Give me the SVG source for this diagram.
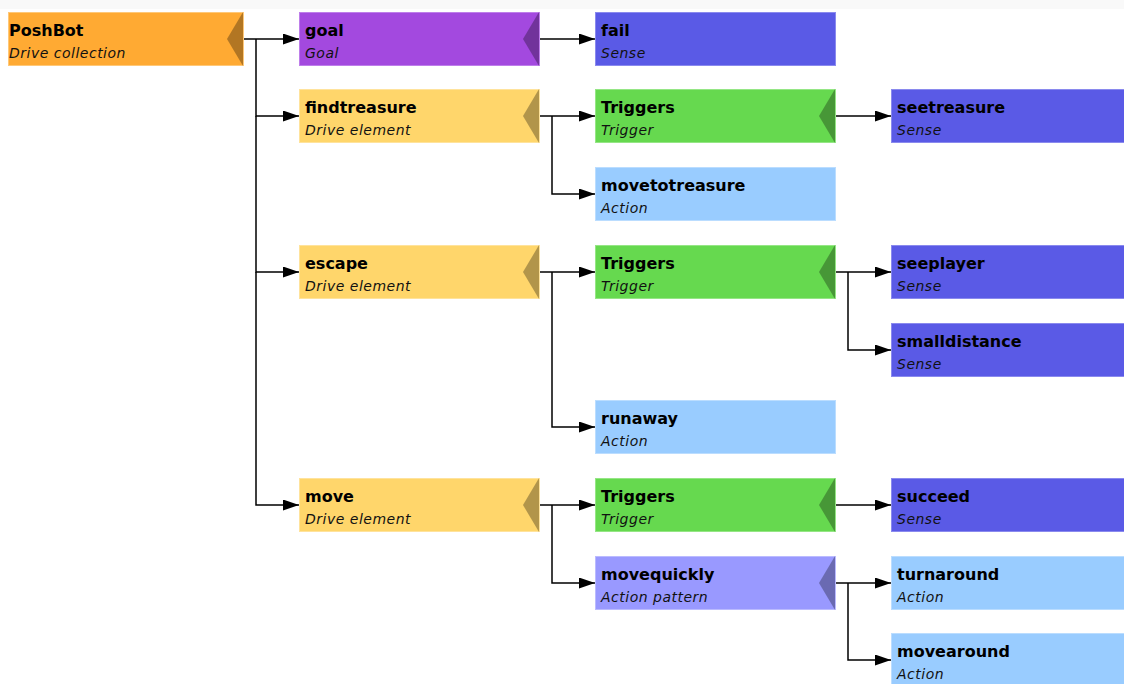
<svg xmlns="http://www.w3.org/2000/svg" width="1124" height="684" viewBox="0 0 1124 684">
  <style>
    .box { stroke-width: 1; }
    .notch { fill: #000; fill-opacity: 0.3; }
    .name { font-family: "DejaVu Sans", Verdana, sans-serif; font-weight: bold; font-size: 16px; fill: #000; }
    .kind { font-family: "DejaVu Sans", Verdana, sans-serif; font-style: italic; font-size: 14px; letter-spacing: 0.5px; fill: #111; }
    .collection { fill: #FFAA33; stroke: #FFC878; }
    .goal { fill: #A349DF; stroke: #BE7EEA; }
    .sense { fill: #5A5AE6; stroke: #8A8AEE; }
    .element { fill: #FFD66B; stroke: #FFE39C; }
    .trigger { fill: #66D94F; stroke: #95E685; }
    .action { fill: #99CCFF; stroke: #BBDDFF; }
    .pattern { fill: #9999FF; stroke: #BBBBFF; }
    .wire { fill: none; stroke: #000; stroke-width: 1.5; }
  </style>
  <defs>
    <marker id="arrow" viewBox="0 0 16 11" refX="16" refY="5.5" markerWidth="16" markerHeight="11" markerUnits="userSpaceOnUse" orient="auto">
      <path d="M0,0 L16,5.5 L0,11 z" fill="#000"/>
    </marker>
  </defs>

  <rect x="0" y="0" width="1124" height="684" fill="#fff"/>
  <rect x="0" y="0" width="1124" height="9" fill="#f9f9f9"/>

  <!-- connectors -->
  <g id="connectors" class="wire" marker-end="url(#arrow)">
    <path d="M243,39 H299"/>
    <path d="M256,39 V116 H299"/>
    <path d="M256,116 V272 H299"/>
    <path d="M256,272 V505 H299"/>
    <path d="M539,39 H595"/>
    <path d="M539,116 H595"/>
    <path d="M552,116 V194 H595"/>
    <path d="M835,116 H891"/>
    <path d="M539,272 H595"/>
    <path d="M552,272 V427 H595"/>
    <path d="M835,272 H891"/>
    <path d="M848,272 V350 H891"/>
    <path d="M539,505 H595"/>
    <path d="M552,505 V583 H595"/>
    <path d="M835,505 H891"/>
    <path d="M835,583 H891"/>
    <path d="M848,583 V660 H891"/>
  </g>

  <!-- column 1 -->
  <g id="PoshBot">
    <rect class="box collection" x="8.5" y="12.5" width="235" height="53"/>
    <polygon class="notch" points="243,12 227,39 243,66"/>
    <text class="name" x="9" y="36">PoshBot</text>
    <text class="kind" x="9" y="58">Drive collection</text>
  </g>

  <!-- column 2 -->
  <g id="goal">
    <rect class="box goal" x="299.5" y="12.5" width="240" height="53"/>
    <polygon class="notch" points="539,12 523,39 539,66"/>
    <text class="name" x="305" y="36">goal</text>
    <text class="kind" x="305" y="58">Goal</text>
  </g>
  <g id="findtreasure">
    <rect class="box element" x="299.5" y="89.5" width="240" height="53"/>
    <polygon class="notch" points="539,89 523,116 539,143"/>
    <text class="name" x="305" y="113">findtreasure</text>
    <text class="kind" x="305" y="135">Drive element</text>
  </g>
  <g id="escape">
    <rect class="box element" x="299.5" y="245.5" width="240" height="53"/>
    <polygon class="notch" points="539,245 523,272 539,299"/>
    <text class="name" x="305" y="269">escape</text>
    <text class="kind" x="305" y="291">Drive element</text>
  </g>
  <g id="move">
    <rect class="box element" x="299.5" y="478.5" width="240" height="53"/>
    <polygon class="notch" points="539,478 523,505 539,532"/>
    <text class="name" x="305" y="502">move</text>
    <text class="kind" x="305" y="524">Drive element</text>
  </g>

  <!-- column 3 -->
  <g id="fail">
    <rect class="box sense" x="595.5" y="12.5" width="240" height="53"/>
    <text class="name" x="601" y="36">fail</text>
    <text class="kind" x="601" y="58">Sense</text>
  </g>
  <g id="triggers-findtreasure">
    <rect class="box trigger" x="595.5" y="89.5" width="240" height="53"/>
    <polygon class="notch" points="835,89 819,116 835,143"/>
    <text class="name" x="601" y="113">Triggers</text>
    <text class="kind" x="601" y="135">Trigger</text>
  </g>
  <g id="movetotreasure">
    <rect class="box action" x="595.5" y="167.5" width="240" height="53"/>
    <text class="name" x="601" y="191">movetotreasure</text>
    <text class="kind" x="601" y="213">Action</text>
  </g>
  <g id="triggers-escape">
    <rect class="box trigger" x="595.5" y="245.5" width="240" height="53"/>
    <polygon class="notch" points="835,245 819,272 835,299"/>
    <text class="name" x="601" y="269">Triggers</text>
    <text class="kind" x="601" y="291">Trigger</text>
  </g>
  <g id="runaway">
    <rect class="box action" x="595.5" y="400.5" width="240" height="53"/>
    <text class="name" x="601" y="424">runaway</text>
    <text class="kind" x="601" y="446">Action</text>
  </g>
  <g id="triggers-move">
    <rect class="box trigger" x="595.5" y="478.5" width="240" height="53"/>
    <polygon class="notch" points="835,478 819,505 835,532"/>
    <text class="name" x="601" y="502">Triggers</text>
    <text class="kind" x="601" y="524">Trigger</text>
  </g>
  <g id="movequickly">
    <rect class="box pattern" x="595.5" y="556.5" width="240" height="53"/>
    <polygon class="notch" points="835,556 819,583 835,610"/>
    <text class="name" x="601" y="580">movequickly</text>
    <text class="kind" x="601" y="602">Action pattern</text>
  </g>

  <!-- column 4 -->
  <g id="seetreasure">
    <rect class="box sense" x="891.5" y="89.5" width="240" height="53"/>
    <text class="name" x="897" y="113">seetreasure</text>
    <text class="kind" x="897" y="135">Sense</text>
  </g>
  <g id="seeplayer">
    <rect class="box sense" x="891.5" y="245.5" width="240" height="53"/>
    <text class="name" x="897" y="269">seeplayer</text>
    <text class="kind" x="897" y="291">Sense</text>
  </g>
  <g id="smalldistance">
    <rect class="box sense" x="891.5" y="323.5" width="240" height="53"/>
    <text class="name" x="897" y="347">smalldistance</text>
    <text class="kind" x="897" y="369">Sense</text>
  </g>
  <g id="succeed">
    <rect class="box sense" x="891.5" y="478.5" width="240" height="53"/>
    <text class="name" x="897" y="502">succeed</text>
    <text class="kind" x="897" y="524">Sense</text>
  </g>
  <g id="turnaround">
    <rect class="box action" x="891.5" y="556.5" width="240" height="53"/>
    <text class="name" x="897" y="580">turnaround</text>
    <text class="kind" x="897" y="602">Action</text>
  </g>
  <g id="movearound">
    <rect class="box action" x="891.5" y="633.5" width="240" height="53"/>
    <text class="name" x="897" y="657">movearound</text>
    <text class="kind" x="897" y="679">Action</text>
  </g>
</svg>
